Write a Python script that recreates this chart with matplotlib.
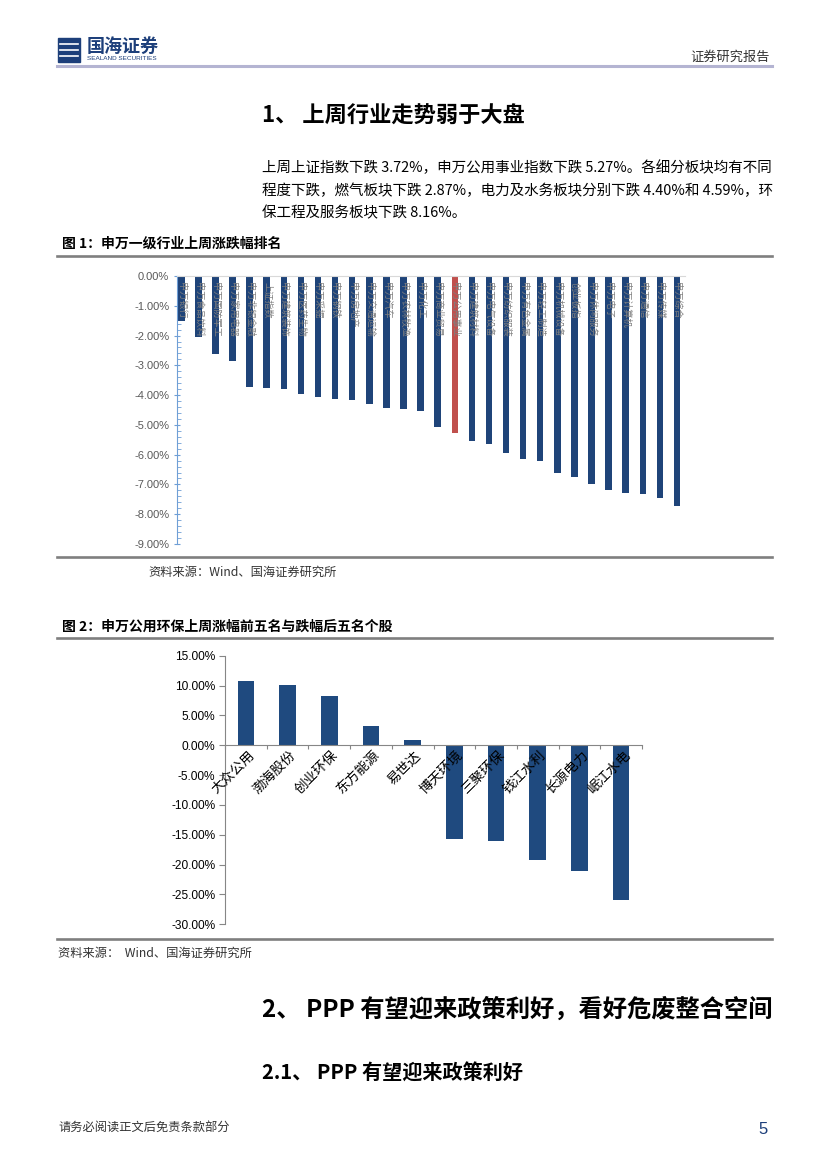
import numpy as np
import matplotlib
matplotlib.use('Agg')
import matplotlib.pyplot as plt
from matplotlib.lines import Line2D
from matplotlib.patches import Rectangle
from matplotlib.ticker import MultipleLocator, FuncFormatter

# ---------- data ----------
# fig 1: 申万一级行业上周涨跌幅 (%)
ind_names = ['申万银行', '申万食品饮料', '申万国防军工', '申万家用电器', '申万非银金融',
             '上证指数', '申万建筑装饰', '申万医药生物', '申万采掘', '申万钢铁',
             '申万房地产', '申万交通运输', '申万汽车', '申万农林牧渔', '申万化工',
             '申万商业贸易', '申万公用事业', '申万建筑材料', '申万电气设备', '申万纺织服装',
             '申万有色金属', '申万轻工制造', '申万机械设备', '创业板指', '申万休闲服务',
             '申万电子', '申万计算机', '申万通信', '申万传媒', '申万综合']
ind_chg = [-1.50, -2.05, -2.62, -2.85, -3.72, -3.75, -3.79, -3.97, -4.06, -4.12,
           -4.18, -4.30, -4.44, -4.45, -4.52, -5.08, -5.27, -5.53, -5.64, -5.94,
           -6.15, -6.20, -6.60, -6.75, -7.00, -7.20, -7.30, -7.33, -7.47, -7.72]
highlight = '申万公用事业'

# fig 2: 申万公用环保上周涨幅前五 / 跌幅后五 个股 (%)
stock_names = ['大众公用', '渤海股份', '创业环保', '东方能源', '易世达',
               '博天环境', '三聚环保', '钱江水利', '长源电力', '岷江水电']
stock_chg = [10.77, 10.05, 8.26, 3.30, 0.89, -15.63, -16.03, -19.15, -21.00, -25.96]

CJK = ['Noto Sans CJK SC', 'DejaVu Sans']
NUM = ['Liberation Sans', 'DejaVu Sans']
W, H = 827, 1169


def fx(x):
    return x / W


def fy(y):
    return 1 - y / H


fig = plt.figure(figsize=(8.27, 11.69), dpi=100)


def hline(y, x0=57, x1=772, color='#7f7f7f', lw=1.9):
    fig.add_artist(Line2D([fx(x0), fx(x1)], [fy(y), fy(y)], color=color, lw=lw))


def txt(x, y, s, size, **kw):
    kw.setdefault('family', CJK)
    kw.setdefault('va', 'center')
    fig.text(fx(x), fy(y), s, fontsize=size, **kw)


# ---------- page header ----------
fig.add_artist(Rectangle((fx(58), fy(62)), fx(22), 24 / H, color='#1d3f7a'))
for yy in (44, 50, 56):
    fig.add_artist(Line2D([fx(60), fx(78)], [fy(yy), fy(yy)], color='white', lw=1.2))
txt(87, 46, '国海证券', 13, weight='bold', color='#1d3f7a')
txt(87, 59, 'SEALAND SECURITIES', 4.6, family=NUM, color='#1d3f7a')
txt(770, 57, '证券研究报告', 9.5, ha='right', color='#333333')
hline(66, color='#b4b4d2', lw=2.2)

txt(262, 116, '1、 上周行业走势弱于大盘', 16, weight='bold')
txt(262, 168, '上周上证指数下跌 3.72%，申万公用事业指数下跌 5.27%。各细分板块均有不同', 10.45)
txt(262, 191, '程度下跌，燃气板块下跌 2.87%，电力及水务板块分别下跌 4.40%和 4.59%，环', 10.45)
txt(262, 213, '保工程及服务板块下跌 8.16%。', 10.45)

txt(62, 244, '图 1：申万一级行业上周涨跌幅排名', 10, weight='bold')
hline(256)

# ---------- fig 1 ----------
ax1 = fig.add_axes([fx(177), fy(544), (685 - 177) / W, (544 - 276) / H])
x1 = np.arange(len(ind_chg))
colors1 = ['#c0504d' if n == highlight else '#1f4479' for n in ind_names]
ax1.bar(x1, ind_chg, width=0.38, color=colors1, zorder=2)
for i, n in enumerate(ind_names):
    ax1.text(i, -0.2, n, rotation=-90, ha='center', va='top', fontsize=6.6,
             color='#808080', family=CJK, zorder=3)
ax1.set_xlim(-0.25, len(ind_chg) - 0.53)
ax1.set_ylim(-9, 0)
ax1.yaxis.set_major_locator(MultipleLocator(1))
ax1.yaxis.set_minor_locator(MultipleLocator(0.2))
ax1.yaxis.set_major_formatter(FuncFormatter(lambda v, p: '%.2f%%' % v))
ax1.tick_params(axis='y', which='major', direction='inout', length=5, width=0.8,
                color='#6f9fd6', labelsize=8, labelcolor='#595959', pad=3)
ax1.tick_params(axis='y', which='minor', direction='in', length=3, width=0.6, color='#6f9fd6')
for lab in ax1.get_yticklabels():
    lab.set_family(NUM)
ax1.set_xticks([])
ax1.spines['left'].set_color('#6f9fd6')
ax1.spines['top'].set_color('#d9d9d9')
ax1.spines['right'].set_visible(False)
ax1.spines['bottom'].set_visible(False)

hline(557)
txt(148, 572, '资料来源：Wind、国海证券研究所', 8.8, color='#333333')

# ---------- fig 2 ----------
txt(62, 627, '图 2：申万公用环保上周涨幅前五名与跌幅后五名个股', 10, weight='bold')
hline(638)

ax2 = fig.add_axes([fx(225), fy(924.3), (642 - 225) / W, (924.3 - 655.7) / H])
x2 = np.arange(len(stock_chg))
ax2.bar(x2, stock_chg, width=0.4, color='#1f4a7f', zorder=2)
for i, n in enumerate(stock_names):
    ax2.text(i + 0.15, -1.3, n, rotation=45, ha='right', va='center', rotation_mode='anchor',
             fontsize=9.8, family=CJK, color='black', zorder=3)
ax2.set_xlim(-0.5, len(stock_chg) - 0.5)
ax2.set_ylim(-30, 15)
ax2.yaxis.set_major_locator(MultipleLocator(5))
ax2.yaxis.set_major_formatter(FuncFormatter(lambda v, p: '%.2f%%' % v))
ax2.set_xticks(np.arange(len(stock_chg) + 1) - 0.5)
ax2.set_xticklabels([])
ax2.tick_params(axis='x', direction='out', length=3, width=0.8, color='#868686')
ax2.tick_params(axis='y', direction='out', length=4, width=0.8, color='#868686',
                labelsize=8.6, labelcolor='black', pad=3)
for lab in ax2.get_yticklabels():
    lab.set_family(NUM)
ax2.spines['bottom'].set_position(('data', 0))
ax2.spines['bottom'].set_color('#868686')
ax2.spines['left'].set_color('#868686')
ax2.spines['top'].set_visible(False)
ax2.spines['right'].set_visible(False)

hline(939)
txt(58, 953, '资料来源：  Wind、国海证券研究所', 8.8, color='#333333')

# ---------- following text ----------
txt(262, 1010, '2、 PPP 有望迎来政策利好，看好危废整合空间', 17.5, weight='bold')
txt(262, 1073, '2.1、 PPP 有望迎来政策利好', 14.5, weight='bold')

txt(58, 1127, '请务必阅读正文后免责条款部分', 8.8, color='#333333')
txt(768, 1130, '5', 12, family=NUM, ha='right', color='#1d3f7a')

plt.savefig('out.png', dpi=100)
